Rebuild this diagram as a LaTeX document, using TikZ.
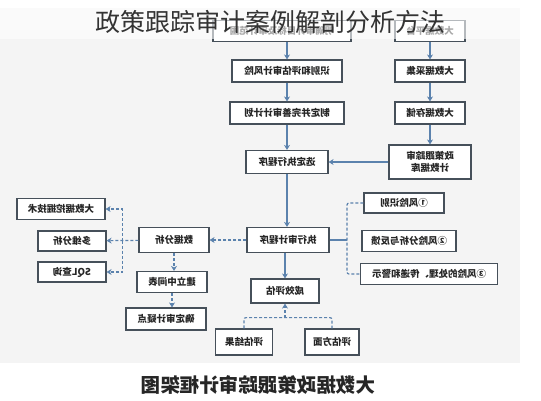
\documentclass[tikz,border=0pt]{standalone}
\usepackage{fontspec}
\usepackage{graphicx}
\newfontfamily\cjk{Noto Sans CJK SC}
\usetikzlibrary{arrows.meta,calc}
\definecolor{panel}{HTML}{F4F4F4}
\definecolor{edge}{HTML}{46505A}
\definecolor{flow}{HTML}{5B82AD}
\newcommand{\mir}[1]{\reflectbox{#1}}

\begin{document}
\begin{tikzpicture}[x=1pt,y=-1pt,
  box/.style={draw=edge,line width=1.2pt,fill=white,text=black!85,
    font=\cjk\bfseries\fontsize{9.5}{11}\selectfont,inner sep=0pt,minimum height=21pt},
  flowline/.style={flow,line width=1.2pt},
  flowarr/.style={flowline,-{Stealth[length=5pt,width=6pt]}},
  dashline/.style={flowline,dash pattern=on 3pt off 2pt},
  dasharr/.style={flowarr,dash pattern=on 3pt off 2pt}]
\useasboundingbox (0,0) rectangle (541,400);
\fill[panel] (0,8) rectangle (520,363);

\node[box,minimum width=138pt] (l1) at (282,31) {\mir{明确审计目标及审计范围}};
\node[box,minimum width=110pt,minimum height=22pt] (l2) at (287,71) {\mir{识别和评估审计风险}};
\node[box,minimum width=114pt,minimum height=22pt] (l3) at (287,113) {\mir{制定并完善审计计划}};
\node[box,minimum width=82pt,minimum height=23pt] (l4) at (287,162) {\mir{选定执行程序}};
\node[box,minimum width=82pt,minimum height=25pt] (l5) at (288,240) {\mir{执行审计程序}};
\node[box,minimum width=68pt,minimum height=24pt] (l6) at (285,291) {\mir{成效评估}};

\node[box,minimum width=70pt] (r1) at (430,31) {\mir{大数据平台}};
\node[box,minimum width=70pt,minimum height=22pt] (r2) at (430,71) {\mir{大数据采集}};
\node[box,minimum width=70pt,minimum height=22pt] (r3) at (430,113) {\mir{大数据存储}};
\node[box,minimum width=82pt,minimum height=34pt,align=center] (r4) at (430,162)
  {\mir{\shortstack{政策跟踪审\\计数据库}}};

\node[box,minimum width=80pt,minimum height=20pt] (k1) at (404,203) {\mir{①风险识别}};
\node[box,minimum width=94pt] (k2) at (409,241) {\mir{②风险分析与反馈}};
\node[box,minimum width=137pt] (k3) at (429,274) {\mir{③风险的处理、传递和警示}};

\node[box,minimum width=70pt,minimum height=25pt] (da) at (174,240) {\mir{数据分析}};
\node[box,minimum width=88pt] (t1) at (61,209) {\mir{大数据挖掘技术}};
\node[box,minimum width=68pt,minimum height=20pt] (t2) at (72,241) {\mir{多维分析}};
\node[box,minimum width=68pt,minimum height=20pt] (t3) at (72,272) {\mir{SQL查询}};
\node[box,minimum width=70pt] (m1) at (172,282) {\mir{建立中间表}};
\node[box,minimum width=80pt,minimum height=22pt] (m2) at (166,319) {\mir{确定审计疑点}};

\node[box,minimum width=57pt,minimum height=26pt] (e1) at (244,342) {\mir{评估结果}};
\node[box,minimum width=54pt,minimum height=26pt] (e2) at (332,342) {\mir{评估方面}};

\draw[flowarr] (l1.south -| l2) -- (l2);
\draw[flowarr] (l2) -- (l3);
\draw[flowarr] (l3) -- (l4);
\draw[flowarr] (l4) -- (l4 |- l5.north);
\draw[flowarr] (l5.south -| l6) -- (l6);
\draw[flowarr] (r1) -- (r2);
\draw[flowarr] (r2) -- (r3);
\draw[flowarr] (r3) -- (r4);
\draw[flowarr] (r4) -- (l4);

\draw[dasharr] (l5) -- (da);
\draw[dasharr] (da) -- (t2);
\coordinate (tj) at ($(t2.east)!.5!(da.west)$);
\draw[dasharr] (tj) |- (t1.east);
\draw[dasharr] (tj) |- (t3.east);
\draw[dasharr] (da.south) -- (da.south |- m1.north);
\draw[dasharr] (m1.south) -- (m1.south |- m2.north);

\coordinate (kj) at (347,240);
\draw[flowline] (l5.east) -- (kj);
\draw[dashline,rounded corners=2pt] (k1.west) -- (k1.west -| kj) -- (k3.west -| kj) -- (k3.west);

\coordinate (ej) at ($(l6.south)+(0,14)$);
\draw[dashline,rounded corners=2pt] (e1.north) |- (ej) -| (e2.north);
\draw[dasharr] (ej) -- (l6.south);

\fill[white,opacity=.6] (0,0) rectangle (541,39);
\node[font=\cjk\fontsize{25}{27}\selectfont,text=black!80] (title) at (270,22) {政策跟踪审计案例解剖分析方法};
\node[font=\cjk\bfseries\fontsize{19.5}{21}\selectfont,text=black!85] (cap) at (258,385) {\mir{大数据政策跟踪审计框架图}};
\end{tikzpicture}
\end{document}
